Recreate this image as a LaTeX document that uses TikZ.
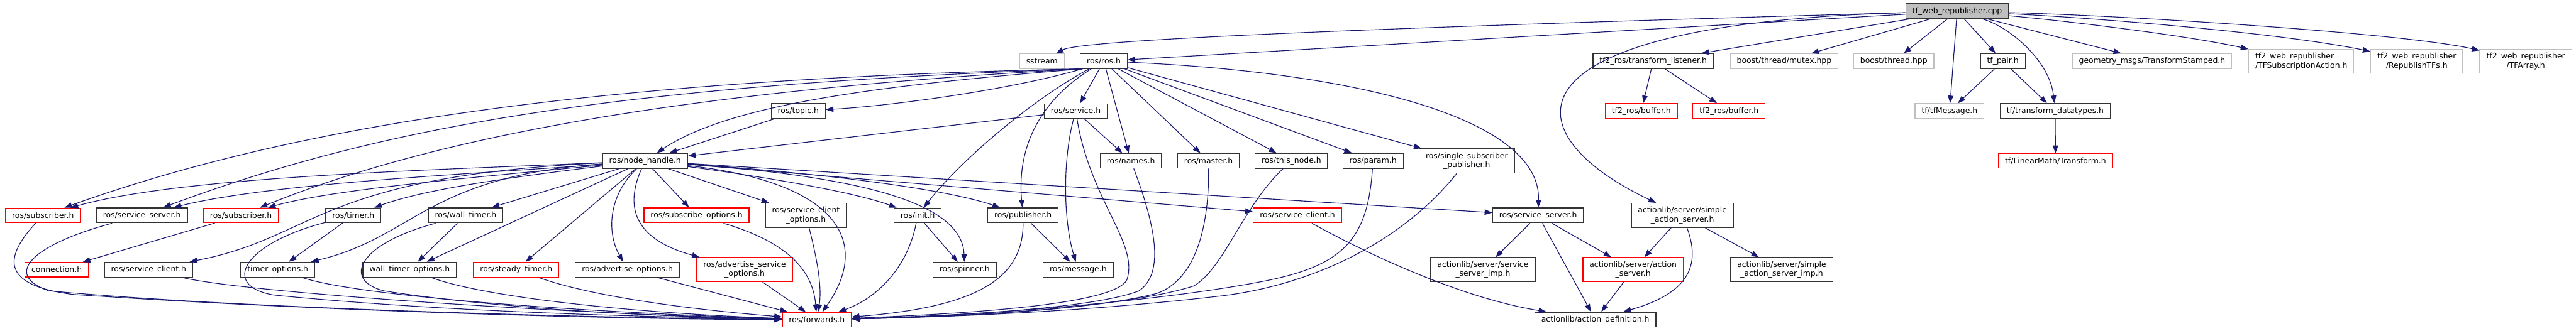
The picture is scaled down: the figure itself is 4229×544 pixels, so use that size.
\documentclass[tikz,border=0pt]{standalone}
\usepackage{fontspec}
\setmainfont{DejaVu Sans}
\usetikzlibrary{arrows.meta}
\definecolor{edgeblue}{HTML}{191970}
\definecolor{boxgray}{HTML}{BFBFBF}

\begin{document}
\begin{tikzpicture}[
                    x=1pt, y=-1pt,
                    file/.style={draw=black!80, line width=1.3pt, rectangle, fill=white, align=center, inner xsep=10.8pt, inner ysep=6pt, minimum height=24pt, font=\fontsize{12.8}{15}\selectfont},
                    trunc/.style={file, draw=red},
                    extern/.style={file, draw=boxgray},
                    main/.style={file, fill=boxgray},
                    arrow/.style={-{Triangle[length=12.5pt,width=9pt]}, draw=edgeblue, line width=1.2pt}
                ]
                \useasboundingbox (0,0) rectangle (4229,544);

                % Source file
                \node[main] (root) at (3213,18.5) {tf\_web\_republisher.cpp};

                % Direct includes
                \node[extern] (sstream) at (1710.5,100.5) {sstream};
                \node[file] (ros) at (1812,100.5) {ros/ros.h};
                \node[file] (listener) at (2714,100.5) {tf2\_ros/transform\_listener.h};
                \node[extern] (mutex) at (2929,100.5) {boost/thread/mutex.hpp};
                \node[extern] (thread) at (3109,100.5) {boost/thread.hpp};
                \node[file] (pair) at (3288,100.5) {tf\_pair.h};
                \node[extern] (stamped) at (3533,100.5) {geometry\_msgs/TransformStamped.h};
                \node[extern, align=left] (subaction) at (3778,100.5) {tf2\_web\_republisher\\/TFSubscriptionAction.h};
                \node[extern] (repubtfs) at (3967.5,100.5) {tf2\_web\_republisher\\/RepublishTFs.h};
                \node[extern] (tfarray) at (4146.5,100.5) {tf2\_web\_republisher\\/TFArray.h};

                % Second level
                \node[file] (topic) at (1310.5,182.6) {ros/topic.h};
                \node[file] (service) at (1766,182.6) {ros/service.h};
                \node[trunc] (bufa) at (2694.5,182.6) {tf2\_ros/buffer.h};
                \node[trunc] (bufb) at (2838.5,182.6) {tf2\_ros/buffer.h};
                \node[extern] (tfmsg) at (3200.5,182.6) {tf/tfMessage.h};
                \node[file] (datatypes) at (3374,182.6) {tf/transform\_datatypes.h};

                % Third level
                \node[file] (nh) at (1059,264.4) {ros/node\_handle.h};
                \node[file] (names) at (1856.5,264.4) {ros/names.h};
                \node[file] (master) at (1984,264.4) {ros/master.h};
                \node[file] (thisnode) at (2120,264.4) {ros/this\_node.h};
                \node[file] (param) at (2254,264.4) {ros/param.h};
                \node[file] (singlesub) at (2408,264.4) {ros/single\_subscriber\\\_publisher.h};
                \node[trunc] (lintf) at (3374.5,264.4) {tf/LinearMath/Transform.h};

                % Fourth level
                \node[trunc] (suba) at (70.5,354) {ros/subscriber.h};
                \node[file] (srvsrva) at (233,354) {ros/service\_server.h};
                \node[trunc] (subb) at (395.5,354) {ros/subscriber.h};
                \node[file] (timer) at (580,354) {ros/timer.h};
                \node[file] (walltimer) at (764.5,354) {ros/wall\_timer.h};
                \node[trunc] (subopts) at (1143.5,354) {ros/subscribe\_options.h};
                \node[file] (clientopts) at (1323,354) {ros/service\_client\\\_options.h};
                \node[file] (init) at (1506.5,354) {ros/init.h};
                \node[file] (publisher) at (1679.5,354) {ros/publisher.h};
                \node[trunc] (clientb) at (2130,354) {ros/service\_client.h};
                \node[file] (srvsrvb) at (2525,354) {ros/service\_server.h};
                \node[file] (simpleas) at (2762,354) {actionlib/server/simple\\\_action\_server.h};

                % Fifth level
                \node[trunc] (connection) at (93,443.3) {connection.h};
                \node[file] (clienta) at (244,443.3) {ros/service\_client.h};
                \node[file] (timeropts) at (456,443.3) {timer\_options.h};
                \node[file] (walltimeropts) at (672.5,443.3) {wall\_timer\_options.h};
                \node[trunc] (steady) at (847.5,443.3) {ros/steady\_timer.h};
                \node[file] (advopts) at (1030,443.3) {ros/advertise\_options.h};
                \node[trunc] (advsrvopts) at (1222.5,443.3) {ros/advertise\_service\\\_options.h};
                \node[file] (spinner) at (1583.5,443.3) {ros/spinner.h};
                \node[file] (message) at (1770,443.3) {ros/message.h};
                \node[file] (srvimp) at (2434.5,443.3) {actionlib/server/service\\\_server\_imp.h};
                \node[trunc] (actsrv) at (2681,443.3) {actionlib/server/action\\\_server.h};
                \node[file] (simpleimp) at (2925,443.3) {actionlib/server/simple\\\_action\_server\_imp.h};

                % Bottom
                \node[trunc] (forwards) at (1341,525.4) {ros/forwards.h};
                \node[file] (actdef) at (2619,525.4) {actionlib/action\_definition.h};

                % Connections from the source file
                \draw[arrow] (root) .. controls (2100,50) and (1770,68) .. (sstream);
                \draw[arrow] (root) -- (ros);
                \draw[arrow] (root) -- (listener);
                \draw[arrow] (root) -- (mutex);
                \draw[arrow] (root) -- (thread);
                \draw[arrow] (root) -- (tfmsg);
                \draw[arrow] (root) -- (pair);
                \draw[arrow] (root) .. controls (3300,45) and (3365,100) .. (datatypes);
                \draw[arrow] (root) -- (stamped);
                \draw[arrow] (root) .. controls (3400,35) and (3600,60) .. (subaction);
                \draw[arrow] (root) .. controls (3450,30) and (3750,55) .. (repubtfs);
                \draw[arrow] (root) .. controls (3500,26) and (3950,55) .. (tfarray);
                \draw[arrow] (root) .. controls (2450,40) and (2480,220) .. (simpleas);

                % ros/ros.h
                \draw[arrow] (ros.200) .. controls (1000,130) and (500,200) .. (suba);
                \draw[arrow] (ros.200) .. controls (1000,140) and (620,210) .. (srvsrva);
                \draw[arrow] (ros.200) .. controls (1100,150) and (700,230) .. (subb);
                \draw[arrow] (ros.200) .. controls (1450,140) and (1200,170) .. (nh);
                \draw[arrow] (ros.200) .. controls (1650,150) and (1450,175) .. (topic);
                \draw[arrow] (ros) -- (service);
                \draw[arrow] (ros) .. controls (1700,160) and (1580,260) .. (init);
                \draw[arrow] (ros) .. controls (1700,170) and (1670,250) .. (publisher);
                \draw[arrow] (ros) -- (names);
                \draw[arrow] (ros) -- (master);
                \draw[arrow] (ros) -- (thisnode);
                \draw[arrow] (ros) -- (param);
                \draw[arrow] (ros) -- (singlesub);
                \draw[arrow] (ros) .. controls (2250,120) and (2530,200) .. (srvsrvb);

                % ros/node_handle.h
                \draw[arrow] (nh) .. controls (700,280) and (300,290) .. (suba);
                \draw[arrow] (nh) .. controls (800,285) and (450,300) .. (srvsrva);
                \draw[arrow] (nh) .. controls (800,290) and (550,310) .. (subb);
                \draw[arrow] (nh) .. controls (520,290) and (520,390) .. (clienta);
                \draw[arrow] (nh) .. controls (850,290) and (700,310) .. (timer);
                \draw[arrow] (nh) .. controls (700,290) and (680,390) .. (timeropts);
                \draw[arrow] (nh) -- (walltimer);
                \draw[arrow] (nh) -- (walltimeropts);
                \draw[arrow] (nh) -- (steady);
                \draw[arrow] (nh) .. controls (1000,320) and (995,380) .. (advopts);
                \draw[arrow] (nh) -- (subopts);
                \draw[arrow] (nh) .. controls (1030,330) and (1030,390) .. (advsrvopts);
                \draw[arrow] (nh) -- (clientopts);
                \draw[arrow] (nh) .. controls (1250,290) and (1400,315) .. (init);
                \draw[arrow] (nh) .. controls (1350,285) and (1550,310) .. (publisher);
                \draw[arrow] (nh) .. controls (1400,290) and (1580,330) .. (spinner);
                \draw[arrow] (nh) .. controls (1380,300) and (1430,400) .. (forwards);
                \draw[arrow] (nh) -- (clientb);
                \draw[arrow] (nh) -- (srvsrvb);

                % ros/topic.h, ros/service.h and the third level
                \draw[arrow] (topic) -- (nh);
                \draw[arrow] (service) -- (nh);
                \draw[arrow] (service) -- (names);
                \draw[arrow] (service) .. controls (1745,260) and (1745,360) .. (message);
                \draw[arrow] (service) .. controls (1790,330) and (1870,400) .. (1850,460) .. controls (1830,500) and (1600,515) .. (forwards);
                \draw[arrow] (names) .. controls (1900,380) and (1910,450) .. (1870,478) .. controls (1800,505) and (1600,518) .. (forwards);
                \draw[arrow] (master) .. controls (1985,380) and (1960,460) .. (1900,482) .. controls (1800,508) and (1600,520) .. (forwards);
                \draw[arrow] (thisnode) .. controls (2040,340) and (2010,440) .. (1960,470) .. controls (1850,505) and (1600,520) .. (forwards);
                \draw[arrow] (param) .. controls (2245,400) and (2200,440) .. (2060,465) .. controls (1900,495) and (1600,520) .. (forwards);
                \draw[arrow] (singlesub) .. controls (2300,400) and (2150,470) .. (2000,487) .. controls (1800,510) and (1600,520) .. (forwards);

                % Fourth and fifth level
                \draw[arrow] (suba) .. controls (0,430) and (10,470) .. (120,484) .. controls (500,510) and (1000,525) .. (forwards);
                \draw[arrow] (srvsrva) .. controls (60,400) and (0,450) .. (80,478) .. controls (400,508) and (1000,523) .. (forwards);
                \draw[arrow] (subb) -- (connection);
                \draw[arrow] (clienta) .. controls (400,480) and (900,515) .. (forwards);
                \draw[arrow] (timer) -- (timeropts);
                \draw[arrow] (timer) .. controls (400,400) and (360,470) .. (450,485) .. controls (700,510) and (1000,520) .. (forwards);
                \draw[arrow] (timeropts) .. controls (600,490) and (1000,515) .. (forwards);
                \draw[arrow] (walltimer) -- (walltimeropts);
                \draw[arrow] (walltimer) .. controls (590,400) and (560,460) .. (630,478) .. controls (800,505) and (1050,520) .. (forwards);
                \draw[arrow] (walltimeropts) .. controls (800,490) and (1050,515) .. (forwards);
                \draw[arrow] (steady) .. controls (980,490) and (1150,510) .. (forwards);
                \draw[arrow] (advopts) -- (forwards);
                \draw[arrow] (advsrvopts) -- (forwards);
                \draw[arrow] (subopts) .. controls (1300,400) and (1335,450) .. (forwards);
                \draw[arrow] (clientopts) .. controls (1340,420) and (1350,470) .. (forwards);
                \draw[arrow] (init) -- (spinner);
                \draw[arrow] (init) .. controls (1490,440) and (1440,490) .. (forwards);
                \draw[arrow] (publisher) -- (message);
                \draw[arrow] (publisher) .. controls (1680,460) and (1600,505) .. (forwards);

                % actionlib
                \draw[arrow] (clientb) .. controls (2250,420) and (2400,490) .. (actdef);
                \draw[arrow] (srvsrvb) -- (srvimp);
                \draw[arrow] (srvsrvb) -- (actdef);
                \draw[arrow] (srvsrvb) -- (actsrv);
                \draw[arrow] (simpleas) -- (actsrv);
                \draw[arrow] (simpleas) .. controls (2790,430) and (2780,480) .. (actdef);
                \draw[arrow] (simpleas) -- (simpleimp);
                \draw[arrow] (actsrv) -- (actdef);

                % tf
                \draw[arrow] (listener) -- (bufa);
                \draw[arrow] (listener) -- (bufb);
                \draw[arrow] (pair) -- (tfmsg);
                \draw[arrow] (pair) -- (datatypes);
                \draw[arrow] (datatypes) -- (lintf);
            \end{tikzpicture}
\end{document}
